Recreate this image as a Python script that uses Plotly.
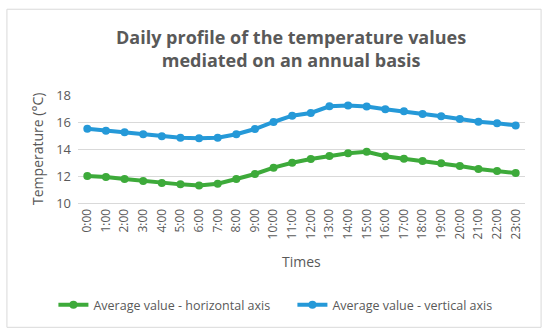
import plotly.graph_objects as go

times = [f"{h}:00" for h in range(24)]
horizontal = [12.0, 11.93, 11.78, 11.63, 11.48, 11.38, 11.3, 11.43, 11.78, 12.15, 12.62, 12.98,
              13.26, 13.48, 13.68, 13.8, 13.46, 13.28, 13.11, 12.94, 12.74, 12.52, 12.37, 12.22]
vertical = [15.5, 15.36, 15.24, 15.09, 14.94, 14.84, 14.79, 14.84, 15.09, 15.48, 16.0, 16.47,
            16.67, 17.16, 17.23, 17.14, 16.94, 16.79, 16.59, 16.42, 16.22, 16.02, 15.9, 15.75]
y_ticks = [10, 12, 14, 16, 18]

GREEN = "#3DAA3A"
BLUE = "#2599D8"
GRAY = "#595959"
FONT = "Open Sans"

fig = go.Figure()
fig.add_trace(go.Scatter(x=times, y=horizontal, mode="lines+markers",
                         name="Average value - horizontal axis",
                         line=dict(color=GREEN, width=4), marker=dict(color=GREEN, size=8)))
fig.add_trace(go.Scatter(x=times, y=vertical, mode="lines+markers",
                         name="Average value - vertical axis",
                         line=dict(color=BLUE, width=4), marker=dict(color=BLUE, size=8)))

fig.update_layout(
    width=550, height=336,
    margin=dict(l=78, r=25, t=95, b=133, autoexpand=False),
    paper_bgcolor="white", plot_bgcolor="white",
    font=dict(family=FONT, color=GRAY, size=12),
    showlegend=True,
    legend=dict(orientation="h", x=-0.055, xanchor="left", y=-0.945, yanchor="middle",
                font=dict(size=12.5, color=GRAY), tracegroupgap=0, entrywidth=194),
    xaxis=dict(type="category", range=[-0.5, len(times) - 0.5], tickangle=-90,
               showgrid=False, showline=True,
               linecolor="#D9D9D9", linewidth=1, ticks="", tickfont=dict(size=12, color=GRAY),
               automargin=False),
    yaxis=dict(range=[10, 18], tickvals=y_ticks, showgrid=True, gridcolor="#D9D9D9",
               gridwidth=1, zeroline=False, showline=False, ticks="",
               tickfont=dict(size=13, color=GRAY), ticklabelstandoff=6, automargin=False),
    annotations=[
        dict(text="<b>Daily profile of the temperature values<br>mediated on an annual basis</b>",
             xref="paper", yref="paper", x=0.476, y=1.435, xanchor="center", yanchor="middle",
             showarrow=False, font=dict(size=18, color=GRAY, family=FONT)),
        dict(text="Times", xref="paper", yref="paper", x=0.5, y=-0.54,
             xanchor="center", yanchor="middle", showarrow=False,
             font=dict(size=14, color=GRAY)),
        dict(text="Temperature (°C)", xref="paper", yref="paper", x=-0.0918, y=0.5,
             xanchor="center", yanchor="middle", textangle=-90, showarrow=False,
             font=dict(size=14, color=GRAY)),
    ],
    shapes=[dict(type="rect", xref="paper", yref="paper", x0=-0.159, x1=1.036,
                 y0=-1.151, y1=1.794, line=dict(color="#D9D9D9", width=1), layer="below")],
)

fig.write_html("out.html", config={"displayModeBar": False},
               post_script="document.body.style.margin='0';")
